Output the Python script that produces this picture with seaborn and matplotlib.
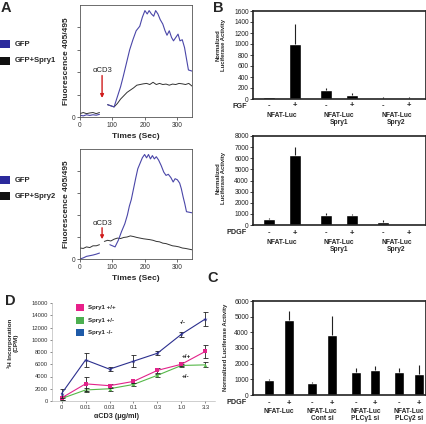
import numpy as np
import pandas as pd
import matplotlib
matplotlib.use('Agg')
import matplotlib.pyplot as plt
import matplotlib.transforms as mtransforms
from matplotlib.patches import Rectangle
import seaborn as sns

# --- Data ---
nan = np.nan

# Panel A: ratio traces (time in sec); nan marks the gap at stimulation
A1_GFP_T = [0, 10, 20, 30, 40, 50, 60, nan, 85, 95, 105, 115, 125, 133, 143, 153, 163, 173, 184, 192,
            200, 207, 213, 220, 227, 233, 240, 247, 255, 262, 268, 275, 282, 288, 295, 302, 308, 315,
            322, 328, 334, 345]
A1_GFP_V = [0.08, 0.05, 0.1, 0.07, 0.1, 0.08, 0.12, nan, 0.55, 0.5, 0.45, 0.9, 1.35, 1.8, 2.4, 3.0, 3.45,
            3.85, 4.05, 4.45, 4.75, 4.6, 4.75, 4.6, 4.5, 4.75, 4.6, 4.35, 4.15, 3.85, 3.65, 3.85, 3.55,
            3.4, 3.55, 3.7, 3.4, 3.45, 3.1, 2.6, 2.1, 2.05]
A1_SPRY_T = [0, 10, 20, 30, 40, 50, 60, nan, 85, 95, 105, 115, 125, 135, 145, 155, 165, 175, 185, 195,
             205, 215, 225, 235, 245, 255, 265, 275, 285, 295, 305, 315, 325, 335, 345]
A1_SPRY_V = [0.15, 0.2, 0.15, 0.18, 0.2, 0.15, 0.2, nan, 0.55, 0.5, 0.45, 0.6, 0.8, 0.95, 1.1, 1.2, 1.3,
             1.42, 1.45, 1.48, 1.5, 1.45, 1.55, 1.45, 1.5, 1.45, 1.47, 1.42, 1.47, 1.45, 1.5, 1.48,
             1.45, 1.5, 1.38]

A2_GFP_T = [0, 10, 20, 30, 40, 50, 60, nan, 92, 100, 108, 118, 128, 138, 146, 152, 158, 165, 172, 178,
            185, 192, 199, 205, 211, 217, 223, 229, 235, 242, 250, 258, 265, 272, 280, 287, 293, 300,
            307, 312, 318, 323, 328, 345]
A2_GFP_V = [0.0, 0.05, 0.12, 0.15, 0.18, 0.22, 0.27, nan, 0.65, 0.6, 0.55, 0.85, 1.25, 1.6, 2.0, 2.4,
            2.7, 3.2, 3.7, 4.1, 4.35, 4.6, 4.75, 4.6, 4.75, 4.55, 4.7, 4.55, 4.65, 4.5, 4.25, 3.95,
            3.8, 3.85, 3.7, 3.5, 3.65, 3.6, 3.45, 3.2, 2.8, 2.5, 2.15, 2.1]
A2_SPRY_T = [0, 10, 20, 30, 40, 50, 60, nan, 75, 85, 95, 105, 115, 125, 135, 145, 155, 165, 175, 185,
             195, 205, 215, 225, 235, 245, 255, 265, 275, 285, 295, 305, 315, 325, 335, 345]
A2_SPRY_V = [0.5, 0.48, 0.55, 0.52, 0.6, 0.6, 0.65, nan, 0.8, 0.85, 0.82, 0.9, 0.95, 0.93, 0.98, 1.0,
             1.05, 1.02, 0.98, 0.95, 0.92, 0.9, 0.88, 0.85, 0.8, 0.78, 0.72, 0.7, 0.65, 0.6, 0.58,
             0.55, 0.5, 0.48, 0.45, 0.42]

# Panel B / C: normalized luciferase activity
STIM = ['-', '+']
B_GROUPS = ['NFAT-Luc', 'NFAT-Luc\nSpry1', 'NFAT-Luc\nSpry2']
B1_VALS = [30, 1000, 160, 80, 20, 25]
B1_ERR = [10, 370, 40, 25, 8, 8]
B2_VALS = [500, 6300, 900, 880, 300, 80]
B2_ERR = [100, 750, 150, 100, 120, 20]
C_GROUPS = ['NFAT-Luc', 'NFAT-Luc\nCont si', 'NFAT-Luc\nPLC\u03b31 si', 'NFAT-Luc\nPLC\u03b32 si']
C_VALS = [950, 4800, 750, 3850, 1500, 1600, 1500, 1350]
C_ERR = [100, 550, 100, 1200, 250, 250, 250, 550]

# Panel D: 3H incorporation
D_DOSES = ['0', '0.01', '0.03', '0.1', '0.3', '1.0', '3.3']
D_WT = [500, 2800, 2500, 3200, 5000, 6000, 8100]
D_WT_ERR = [300, 1100, 300, 300, 450, 300, 1100]
D_HET = [400, 1800, 2000, 2700, 4200, 5800, 5900]
D_HET_ERR = [200, 250, 300, 200, 200, 300, 400]
D_KO = [1200, 6700, 5200, 6500, 7800, 10900, 13400]
D_KO_ERR = [700, 1200, 350, 1000, 350, 400, 1100]

# --- Styling ---
sns.set_style('white')
plt.rcParams['font.family'] = ['Liberation Sans', 'DejaVu Sans']
W, H = 427, 424
fig = plt.figure(figsize=(W / 100, H / 100), dpi=100)

BLUE_A = '#4a46a8'
BLACK_A = '#333333'


def box(l, t, r, b):
    # axes placed in pixel coordinates of the reference
    return fig.add_axes([l / W, 1 - b / H, (r - l) / W, (b - t) / H])


def ftext(x, y, s, **kw):
    fig.text(x / W, 1 - y / H, s, **kw)


def fsquare(x, y, w, h, color):
    fig.patches.append(Rectangle((x / W, 1 - (y + h) / H), w / W, h / H, transform=fig.transFigure,
                                 color=color, lw=0))


def trace_frame(t, v):
    df = pd.DataFrame({'t': t, 'v': v})
    df['seg'] = df['v'].isna().cumsum()
    return df.dropna()


# --- Panel A ---
def trace_panel(ax, gfp_t, gfp_v, spry_t, spry_v, arrow_top, arrow_tip, label_y):
    sns.lineplot(data=trace_frame(spry_t, spry_v), x='t', y='v', units='seg', estimator=None,
                 color=BLACK_A, lw=0.7, ax=ax)
    sns.lineplot(data=trace_frame(gfp_t, gfp_v), x='t', y='v', units='seg', estimator=None,
                 color=BLUE_A, lw=0.8, ax=ax)
    ax.annotate('', xy=(68, arrow_tip), xytext=(68, arrow_top),
                arrowprops=dict(arrowstyle='-|>', color='#d01c1c', lw=1.0, mutation_scale=5,
                                shrinkA=0, shrinkB=0))
    ax.text(70, label_y, '\u03b1CD3', ha='center', va='bottom', fontsize=5.5)
    ax.set_xlim(0, 345)
    ax.set_ylim(0, 5)
    ax.set_xticks([0, 100, 200, 300])
    ax.set_yticks([0, 1, 2, 3, 4])
    ax.set_yticklabels(['0', '', '', '', ''])
    ax.tick_params(direction='out', length=2, width=0.5, labelsize=4.8, pad=1.5, colors='#333',
                   left=True, bottom=True)
    for s in ax.spines.values():
        s.set_linewidth(0.6)
        s.set_color('#555')
    ax.set_xlabel('Times (Sec)', fontsize=6, fontweight='bold', labelpad=3)
    ax.set_ylabel('Fluorescence 405/495', fontsize=6, fontweight='bold', labelpad=1)


axA1 = box(80, 5, 192, 117)
trace_panel(axA1, A1_GFP_T, A1_GFP_V, A1_SPRY_T, A1_SPRY_V, 1.85, 0.85, 1.9)
axA2 = box(80, 149, 192, 259)
trace_panel(axA2, A2_GFP_T, A2_GFP_V, A2_SPRY_T, A2_SPRY_V, 1.42, 0.9, 1.45)

for y0, lab in [(40, 'GFP'), (57, 'GFP+Spry1'), (176, 'GFP'), (192, 'GFP+Spry2')]:
    fsquare(0, y0, 10, 8, '#2b2a9c' if lab == 'GFP' else '#111111')
    ftext(15, y0 + 4, lab, fontsize=5.5, fontweight='bold', va='center')


# --- Panels B and C ---
def bar_panel(ax, vals, errs, groups, stim_name, ymax, ystep, bw, y_pm, y_grp, unit_px):
    n = len(vals)
    pos = [i + (i // 2) * 0.2 for i in range(n)]  # bars in pairs, gap between groups
    sns.barplot(x=pos, y=vals, native_scale=True, orient='x', color='black', saturation=1,
                width=bw, errorbar=None, ax=ax)
    ax.errorbar(pos, vals, yerr=[np.zeros(n), errs], fmt='none', ecolor='#222', elinewidth=0.8,
                capsize=0)
    left = -16 / unit_px
    ax.set_xlim(left, left + 173 / unit_px)
    ax.set_ylim(0, ymax)
    ax.set_yticks(np.arange(0, ymax + 1, ystep))
    ax.set_xticks([])
    ax.tick_params(axis='y', direction='out', length=2, width=0.6, labelsize=4.8, pad=1,
                   left=True, colors='#222')
    for s in ax.spines.values():
        s.set_linewidth(1.2)
        s.set_color('#222')
    tr = mtransforms.blended_transform_factory(ax.transData, fig.transFigure)
    for i, p in enumerate(pos):
        ax.text(p, 1 - y_pm / H, STIM[i % 2], transform=tr, ha='center', va='center',
                fontsize=5.5, fontweight='bold')
    for g, name in enumerate(groups):
        ax.text((pos[2 * g] + pos[2 * g + 1]) / 2, 1 - y_grp / H, name, transform=tr, ha='center',
                va='top', fontsize=4.8, fontweight='bold', linespacing=1.05)
    ftext(247, y_pm, stim_name, ha='right', va='center', fontsize=5.2, fontweight='bold')


axB1 = box(253, 11, 426, 99)
bar_panel(axB1, B1_VALS, B1_ERR, B_GROUPS, 'FGF', 1600, 200, 0.46, 106, 112, 26)
axB2 = box(253, 136, 426, 225)
bar_panel(axB2, B2_VALS, B2_ERR, B_GROUPS, 'PDGF', 8000, 1000, 0.46, 233, 239, 26)
axC = box(253, 301, 426, 395)
bar_panel(axC, C_VALS, C_ERR, C_GROUPS, 'PDGF', 6000, 1000, 0.5, 403, 408, 19.7)

ftext(221, 45, 'Normalized\nLuciferase Activity', rotation=90, ha='center', va='center',
      fontsize=4.2, fontweight='bold', linespacing=1.1)
ftext(221, 178, 'Normalized\nLuciferase Activity', rotation=90, ha='center', va='center',
      fontsize=4.2, fontweight='bold', linespacing=1.1)
ftext(226, 347, 'Normalized Luciferase Activity', rotation=90, ha='center', va='center',
      fontsize=4.3, fontweight='bold')

# --- Panel D ---
axD = box(52, 303, 215, 401)
xs = list(range(len(D_DOSES)))
for vals, errs, col, mk, ms in [(D_HET, D_HET_ERR, '#55b848', '^', 2.5),
                                (D_WT, D_WT_ERR, '#e2238a', 's', 3.2),
                                (D_KO, D_KO_ERR, '#2b2f8e', '*', 3.2)]:
    axD.errorbar(xs, vals, yerr=errs, fmt='none', ecolor='#222', elinewidth=0.6, capsize=1.8,
                 capthick=0.6)
    sns.lineplot(x=xs, y=vals, color=col, lw=0.8, marker=mk, markersize=ms, markeredgewidth=0,
                 ax=axD)
axD.set_xlim(-0.4, 6.4)
axD.set_ylim(0, 16000)
axD.set_xticks(xs)
axD.set_xticklabels(D_DOSES)
axD.set_yticks(np.arange(0, 16001, 2000))
axD.tick_params(direction='out', length=1.5, width=0.4, labelsize=4.2, pad=1.5, colors='#333',
                left=True, bottom=True)
sns.despine(ax=axD)
for s in ['left', 'bottom']:
    axD.spines[s].set_linewidth(0.4)
    axD.spines[s].set_color('#aaa')
ftext(117, 417, '\u03b1CD3 (\u03bcg/ml)', ha='center', va='center', fontsize=5.2, fontweight='bold')
ftext(13, 343, '\u00b3H Incorporation\n(CPM)', rotation=90, ha='center', va='center',
      fontsize=4.6, fontweight='bold', linespacing=1.1)
for y0, col, lab in [(304, '#e8208a', 'Spry1 +/+'), (317, '#4caf50', 'Spry1 +/-'),
                     (329, '#1e5aa8', 'Spry1 -/-')]:
    fsquare(76, y0, 8, 7, col)
    ftext(88, y0 + 3.5, lab, fontsize=4.4, fontweight='bold', va='center')
for x0, y0, lab in [(180, 322, '-/-'), (182, 357, '+/+'), (182, 377, '+/-')]:
    ftext(x0, y0, lab, fontsize=4.6, fontweight='bold', va='center')

# --- Panel letters ---
for x0, y0, lab in [(1, 8, 'A'), (213, 8, 'B'), (207, 278, 'C'), (5, 301, 'D')]:
    ftext(x0, y0, lab, fontsize=10.5, fontweight='bold', va='center')

fig.savefig('out.png', dpi=100)
